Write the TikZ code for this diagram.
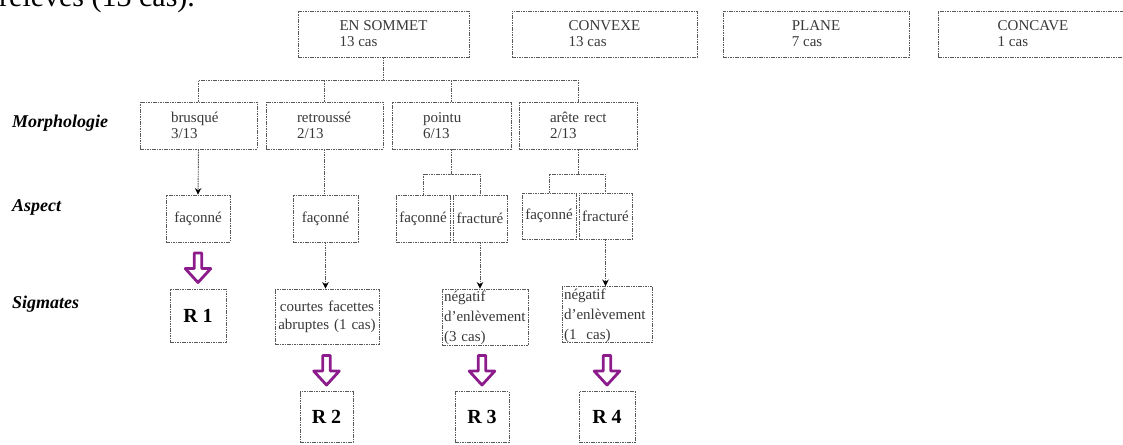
\documentclass[tikz,border=0pt]{standalone}
\usepackage{fontspec}
\setmainfont{Liberation Serif}
\usetikzlibrary{calc,arrows.meta}
\definecolor{lineg}{gray}{0.35}
\definecolor{txtg}{gray}{0.22}
\definecolor{parrowc}{RGB}{140,28,140}
\newcommand{\ind}{\hspace*{31pt}}
\newcommand{\hollowarrow}[1]{%
  \draw[parrow] ($(#1.north)+(-3.8,-35.5)$) -- ($(#1.north)+(3.8,-35.5)$) --
    ($(#1.north)+(3.8,-20)$) -- ($(#1.north)+(12.8,-20)$) --
    ($(#1.north)+(0,-6)$) -- ($(#1.north)+(-12.8,-20)$) --
    ($(#1.north)+(-3.8,-20)$) -- cycle;}
\begin{document}
\begin{tikzpicture}[x=1pt,y=-1pt,
  box/.style={draw=lineg, line width=0.9pt, dash pattern=on 1.6pt off 0.8pt,
    inner sep=0pt, text=txtg},
  topbox/.style={box, minimum width=#1, minimum height=46pt, align=left,
    font=\fontsize{15}{16}\selectfont},
  morphbox/.style={box, text width=#1, minimum height=47pt, align=left,
    font=\fontsize{15}{16}\selectfont},
  aspbox/.style={box, minimum width=#1, minimum height=47pt,
    font=\fontsize{15}{16}\selectfont},
  negbox/.style={box, text width=#1, inner xsep=2pt, inner ysep=1.5pt, align=left,
    text height=11pt, text depth=42pt, font=\fontsize{15}{20}\selectfont},
  rbox/.style={box, minimum width=#1, minimum height=51pt, text=black,
    font=\fontsize{20}{20}\selectfont\bfseries},
  lab/.style={anchor=west, inner sep=0pt, font=\fontsize{18}{18}\selectfont\bfseries\itshape},
  conn/.style={draw=lineg, line width=0.9pt, dash pattern=on 1.6pt off 0.8pt},
  arr/.style={conn, -{Stealth[length=6.5pt,width=6.5pt,black]}},
  parrow/.style={draw=parrowc, line width=2.8pt, line join=round}
]
\useasboundingbox (0,0) rectangle (1123,444);
\clip (0,0) rectangle (1123,444);

% heading fragment
\node[anchor=base west, inner sep=0pt, font=\fontsize{30}{30}\selectfont] (hdr) at (-1,7) {relevés (13 cas).};

% row labels
\node[lab] (lmorph) at (12,123) {Morphologie};
\node[lab] (lasp) at (12,207) {Aspect};
\node[lab] (lsig) at (12,304) {Sigmates};

% top row
\node[topbox=171pt] (ens) at (383.5,34) {EN SOMMET\\13 cas};
\node[topbox=185pt] (conv) at (604.5,34) {CONVEXE\\13 cas};
\node[topbox=186pt] (plane) at (816,34) {PLANE\\7 cas};
\node[topbox=190pt] (conc) at (1033,34) {CONCAVE\\1 cas};

% morphology row
\node[morphbox=117pt] (brusque) at (198.5,125.5) {\ind brusqué\\\ind 3/13};
\node[morphbox=117pt] (retrousse) at (324.5,125.5) {\ind retroussé\\\ind 2/13};
\node[morphbox=119pt] (pointu) at (451.5,125.5) {\ind pointu\\\ind 6/13};
\node[morphbox=118pt] (arete) at (578,125.5) {\ind arête rect\\\ind 2/13};

% aspect row
\node[aspbox=64pt] (fa1) at (198,218.5) {façonné};
\node[aspbox=65pt] (fa2) at (325.5,218.5) {façonné};
\node[aspbox=54pt] (fa3) at (423,218.5) {façonné};
\node[aspbox=54pt] (fr3) at (480,218.5) {fracturé};
\node[aspbox=54pt, minimum height=46pt] (fa4) at (549,216) {façonné};
\node[aspbox=53pt, minimum height=46pt] (fr4) at (605.5,216) {fracturé};

% stigmates row
\node[rbox=56pt, minimum height=53pt] (r1) at (198,315.5) {R 1};
\node[box, text width=104pt, minimum height=55pt, align=center,
  font=\fontsize{15}{18}\selectfont] (courtes) at (327,316.5) {courtes facettes\\abruptes (1 cas)};
\node[negbox=82pt] (neg3) at (485,317) {négatif\\d'enlèvement\\(3 cas)};
\node[negbox=86pt] (neg4) at (607,314.5) {négatif\\d'enlèvement\\(1~ cas)};

% results
\node[rbox=53pt] (r2) at (326.5,417) {R 2};
\node[rbox=54pt] (r3) at (482,417) {R 3};
\node[rbox=56pt] (r4) at (607,417) {R 4};

% tree from EN SOMMET
\coordinate (barlev) at (0,80);
\draw[conn] (ens.south) -- (ens.south |- barlev) coordinate (bar);
\draw[conn] (brusque.north) |- (bar) -| (arete.north);
\draw[conn] (retrousse.north) -- (retrousse.north |- bar);
\draw[conn] (pointu.north) -- (pointu.north |- bar);

% morphology -> aspect
\draw[arr] (brusque.south) -- (fa1.north);
\draw[conn] (retrousse.south) -- (retrousse.south |- fa2.north);
\coordinate (sublev) at (0,174);
\draw[conn] (pointu.south) -- (pointu.south |- sublev) coordinate (b3);
\draw[conn] (fa3.north) |- (b3) -| (fr3.north);
\draw[conn] (arete.south) -- (arete.south |- sublev) coordinate (b4);
\draw[conn] (fa4.north) |- (b4) -| (fr4.north);

% aspect -> stigmates
\draw[arr] (fa2.south) -- (fa2.south |- courtes.north);
\draw[arr] (fr3.south) -- (fr3.south |- neg3.north);
\draw[arr] (fr4.south) -- (fr4.south |- neg4.north);

% hollow purple arrows
\hollowarrow{r1}
\hollowarrow{r2}
\hollowarrow{r3}
\hollowarrow{r4}
\end{tikzpicture}
\end{document}
